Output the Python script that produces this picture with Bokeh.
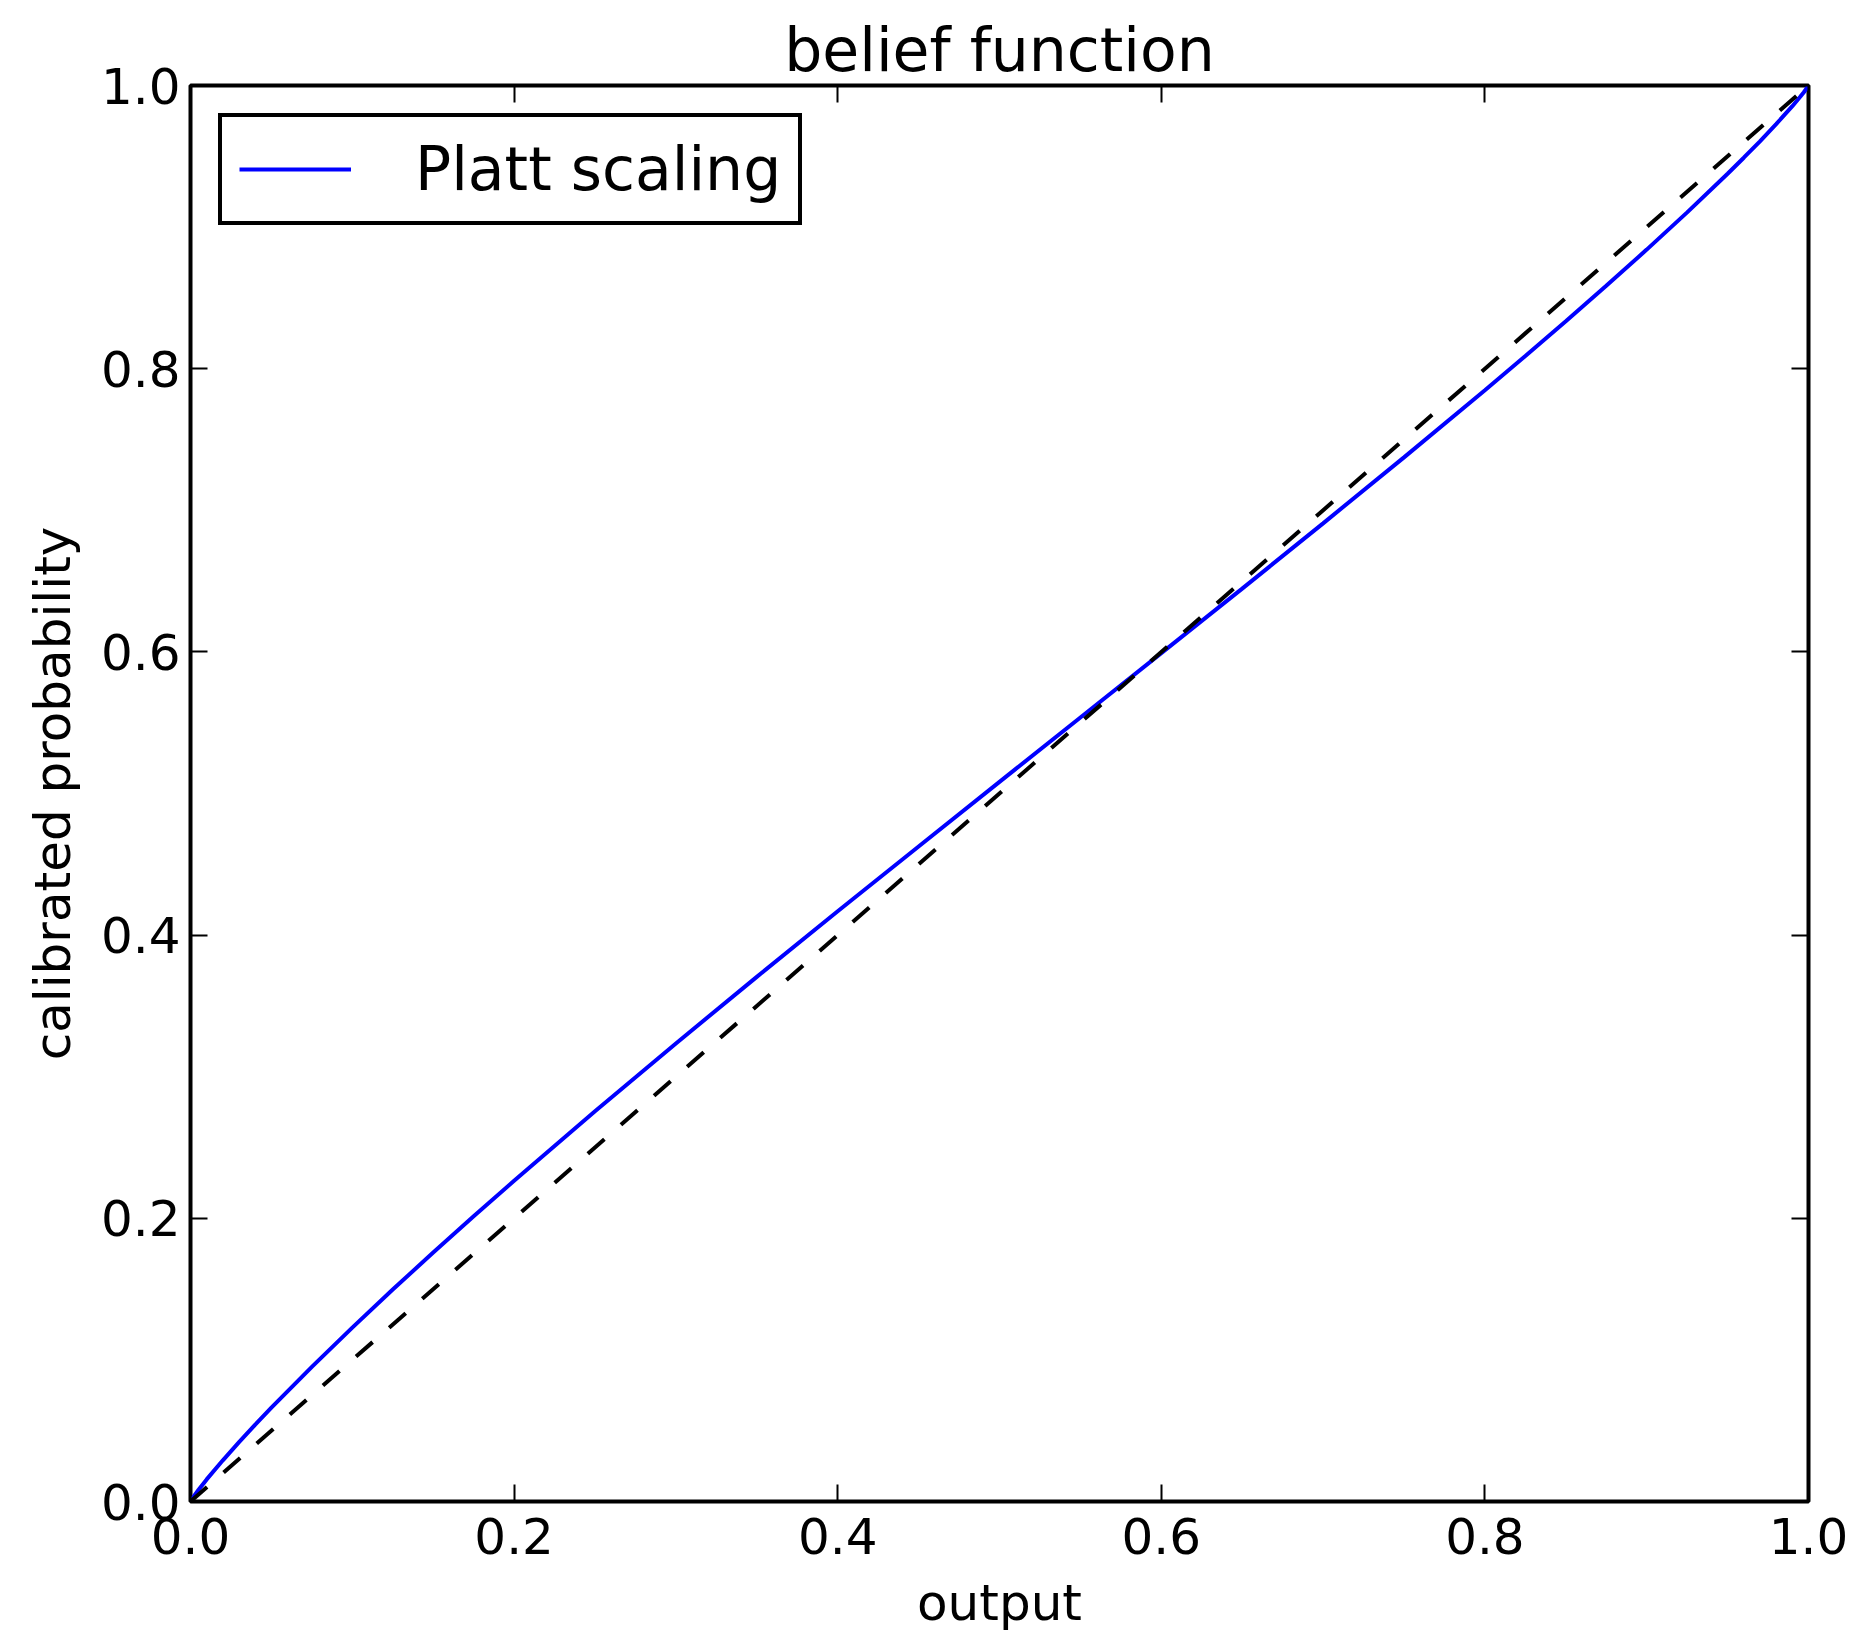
from bokeh.plotting import figure
from bokeh.models import Range1d, FixedTicker, LinearAxis, PrintfTickFormatter, CustomJSTickFormatter
from bokeh.embed import file_html
from bokeh.resources import INLINE

# ---- data ----
output_x = [0.0, 0.001, 0.003, 0.005, 0.01, 0.02, 0.03, 0.04, 0.05, 0.075, 0.10, 0.125,
            0.15, 0.175, 0.20, 0.25, 0.30, 0.35, 0.40, 0.45, 0.50, 0.55, 0.60, 0.65,
            0.70, 0.75, 0.80, 0.825, 0.85, 0.875, 0.90, 0.925, 0.95, 0.96, 0.97, 0.98,
            0.99, 0.995, 0.997, 0.999, 1.0]
platt_y = [0.0, 0.0019, 0.0052, 0.0083, 0.0156, 0.0291, 0.0419, 0.0543, 0.0663, 0.0951, 0.1228, 0.1497,
           0.1758, 0.2014, 0.2265, 0.2756, 0.3235, 0.3705, 0.4168, 0.4626, 0.5082, 0.5537, 0.5991, 0.6447,
           0.6908, 0.7374, 0.7848, 0.8090, 0.8335, 0.8585, 0.8841, 0.9104, 0.9377, 0.9490, 0.9606, 0.9727,
           0.9854, 0.9922, 0.9951, 0.9982, 1.0]
diag_x = [0.0, 1.0]
diag_y = [0.0, 1.0]
tick_values = [0.0, 0.2, 0.4, 0.6, 0.8, 1.0]
title_text = "belief function"
x_label = "output"
y_label = "calibrated probability"
series_label = "Platt scaling"

FONT = "DejaVu Sans"

p = figure(frame_width=1618, frame_height=1416,
           x_range=Range1d(0, 1), y_range=Range1d(0, 1),
           output_backend="svg", toolbar_location=None,
           title=title_text,
           min_border_left=190, min_border_right=40,
           min_border_top=85, min_border_bottom=0)

x_below = p.below[0]
y_left = p.left[0]

p.grid.visible = False
p.background_fill_color = "white"
p.border_fill_color = "white"
p.outline_line_color = "black"
p.outline_line_width = 4
p.outline_line_alpha = 1

p.title.text_font = FONT
p.title.text_font_size = "60px"
p.title.text_font_style = "normal"
p.title.text_color = "black"
p.title.align = "center"
p.title.standoff = 2

extra_right = LinearAxis()
extra_above = LinearAxis()
p.add_layout(extra_right, "right")
p.add_layout(extra_above, "above")

for ax in [x_below, y_left, extra_right, extra_above]:
    ax.ticker = FixedTicker(ticks=tick_values)
    ax.formatter = PrintfTickFormatter(format="%.1f")
    ax.axis_line_color = None
    ax.major_tick_in = 17
    ax.major_tick_out = 0
    ax.major_tick_line_width = 2
    ax.major_tick_line_color = "black"
    ax.minor_tick_line_color = None
    ax.major_label_text_font = FONT
    ax.major_label_text_font_size = "50px"
    ax.major_label_text_color = "black"
    ax.axis_label_text_font = FONT
    ax.axis_label_text_font_size = "50px"
    ax.axis_label_text_font_style = "normal"
    ax.axis_label_text_color = "black"

for ax in [extra_right, extra_above]:
    ax.formatter = CustomJSTickFormatter(code="return '';")
    ax.major_label_text_font_size = "1px"
    ax.major_label_standoff = 0

x_below.axis_label = x_label
y_left.axis_label = y_label
x_below.major_label_standoff = 16
x_below.axis_label_standoff = 17
y_left.major_label_standoff = 10
y_left.axis_label_standoff = 16

p.line(output_x, platt_y, line_color="#0000ff", line_width=4, legend_label=series_label)
p.line(diag_x, diag_y, line_color="black", line_width=4, line_dash="22 22")

lg = p.legend[0]
lg.location = "top_left"
lg.margin = 28
lg.padding = 17
lg.spacing = 0
lg.glyph_width = 112
lg.label_standoff = 64
lg.label_text_font = FONT
lg.label_text_font_size = "60px"
lg.label_text_color = "black"
lg.border_line_color = "black"
lg.border_line_width = 4
lg.border_line_alpha = 1
lg.background_fill_color = "white"
lg.background_fill_alpha = 1

open("out.html", "w").write(file_html(p, INLINE))
